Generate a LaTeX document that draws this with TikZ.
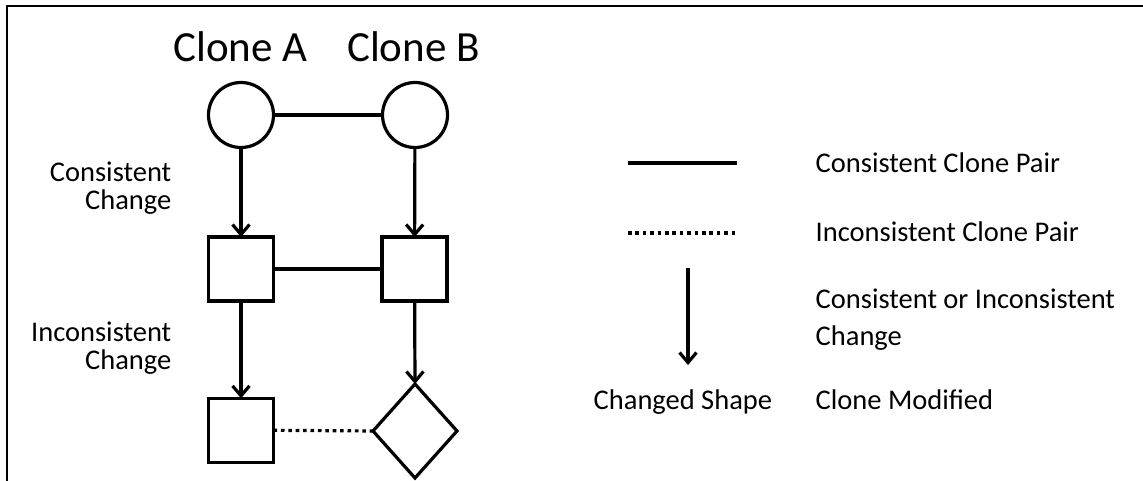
\documentclass[tikz,border=0pt]{standalone}
\usepackage{fontspec}
\setmainfont{Carlito}
\usetikzlibrary{arrows.meta,shapes.geometric}
\begin{document}
\begin{tikzpicture}[x=1pt,y=-1pt,
  outline/.style={draw=black,line width=3.2pt,inner sep=0pt,outer sep=0pt},
  clonecircle/.style={outline,circle,minimum size=65pt},
  clonesquare/.style={outline,rectangle,minimum width=65pt,minimum height=64pt},
  clonediamond/.style={outline,diamond,minimum width=84pt,minimum height=94pt},
  pairline/.style={line width=3.2pt},
  pairdotted/.style={line width=3.2pt,dash pattern=on 3.6pt off 3.8pt},
  changearrow/.style={line width=3.2pt,-{Straight Barb[length=10pt,width=17pt,line width=3.2pt]}},
  title/.style={inner sep=0pt,font=\fontsize{43}{50}\selectfont},
  label/.style={inner sep=0pt,font=\fontsize{28.5}{34}\selectfont}
]
\useasboundingbox (0,0) rectangle (1143,481);

% frame
\draw[line width=2.5pt] (7,481) -- (7,6) -- (1143,6);

% column titles
\node[title,anchor=base] (titleA) at (240.5,62) {Clone A};
\node[title,anchor=base] (titleB) at (413.5,62) {Clone B};

% clone shapes
\node[clonecircle] (cA) at (241,115) {};
\node[clonecircle] (cB) at (415,115) {};
\node[clonesquare] (sA1) at (241,269) {};
\node[clonesquare] (sB1) at (414.5,269) {};
\node[clonesquare] (sA2) at (241,430.3) {};
\node[clonediamond] (dB) at (415,431) {};

% clone pairs
\draw[pairline] (cA) -- (cB);
\draw[pairline] (sA1) -- (sB1);
\draw[pairdotted] (sA2.east) -- (dB.west);

% changes
\draw[changearrow] (cA) -- (sA1);
\draw[changearrow] (cB) -- (sB1);
\draw[changearrow] (sA1) -- (sA2);
\draw[changearrow] (sB1) -- (dB.north);

% change labels
\node[label,anchor=base east] (lcc1) at (171.5,182) {Consistent};
\node[label,anchor=base east] (lcc2) at (171.5,209.3) {Change};
\node[label,anchor=base east] (lic1) at (171.5,341.7) {Inconsistent};
\node[label,anchor=base east] (lic2) at (171.5,369.3) {Change};

% legend
\coordinate (solidL) at (628,163);
\coordinate (solidR) at (737,163);
\coordinate (dotL) at (628,233);
\coordinate (dotR) at (738,233);
\coordinate (arrT) at (688,268);
\coordinate (arrB) at (688,365);
\draw[pairline] (solidL) -- (solidR);
\draw[pairdotted] (dotL) -- (dotR);
\draw[changearrow] (arrT) -- (arrB);

\node[label,anchor=base west] (leg1) at (815.5,172.3) {Consistent Clone Pair};
\node[label,anchor=base west] (leg2) at (815.5,241.7) {Inconsistent Clone Pair};
\node[label,anchor=base west] (leg3a) at (815.5,308) {Consistent or Inconsistent};
\node[label,anchor=base west] (leg3b) at (815.5,345) {Change};
\node[label,anchor=base west] (leg4s) at (593.5,409) {Changed Shape};
\node[label,anchor=base west] (leg4) at (815.5,409) {Clone Modified};
\end{tikzpicture}
\end{document}
